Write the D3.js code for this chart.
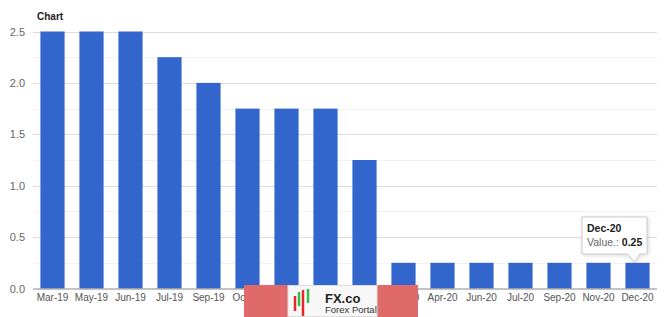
<!DOCTYPE html>
<html><head><meta charset="utf-8">
<script src="https://cdn.jsdelivr.net/npm/d3@7"></script>
<style>
body{margin:0;background:#fff;}
svg{display:block;font-family:"Liberation Sans",Arial,sans-serif;}
</style></head>
<body><svg id="c" width="665" height="317"></svg>
<script>
const categories = ["Mar-19","May-19","Jun-19","Jul-19","Sep-19","Oct-19","Dec-19","Jan-20","Mar-20","Mar-20","Apr-20","Jun-20","Jul-20","Sep-20","Nov-20","Dec-20"];
const values = [2.5,2.5,2.5,2.25,2.0,1.75,1.75,1.75,1.25,0.25,0.25,0.25,0.25,0.25,0.25,0.25];
const yTicks = [0,0.5,1.0,1.5,2.0,2.5];
const yMinor = [0.25,0.75,1.25,1.75,2.25];
const title = "Chart";
const tooltipIndex = 15;

const svg = d3.select("#c");
const x = d3.scaleBand().domain(d3.range(categories.length)).range([33,657]).paddingInner(0.38).paddingOuter(0.19);
const y = d3.scaleLinear().domain([0,2.5]).range([288.5,31.5]);

// minor grid
svg.append("g").selectAll("line").data(yMinor).join("line")
  .attr("x1",33).attr("x2",657).attr("y1",d=>Math.round(y(d))+0.5).attr("y2",d=>Math.round(y(d))+0.5)
  .attr("stroke","#f2f2f2");
// major grid
svg.append("g").selectAll("line").data(yTicks.filter(d=>d>0)).join("line")
  .attr("x1",33).attr("x2",657).attr("y1",d=>Math.round(y(d))+0.5).attr("y2",d=>Math.round(y(d))+0.5)
  .attr("stroke","#dcdcdc");

// y labels
svg.append("g").selectAll("text").data(yTicks).join("text")
  .attr("x",25).attr("y",d=>y(d)+4).attr("text-anchor","end")
  .attr("font-size",11).attr("fill","#666").text(d=>d.toFixed(1));

// bars
svg.append("g").selectAll("rect").data(values).join("rect")
  .attr("x",(d,i)=>x(i)).attr("width",x.bandwidth())
  .attr("y",d=>y(d)).attr("height",d=>y(0)-y(d)).attr("fill","#3366cc");

// baseline
svg.append("line").attr("x1",33).attr("x2",657).attr("y1",289).attr("y2",289).attr("stroke","#888");

// x labels
const xa = d3.axisBottom(x).tickSize(0).tickPadding(5).tickFormat(i=>categories[i]);
const gx = svg.append("g").attr("transform","translate(0,289)").call(xa);
gx.select(".domain").remove();
gx.selectAll("text").attr("font-size",10).attr("fill","#555").attr("font-family","Liberation Sans,Arial,sans-serif");

// title
svg.append("text").attr("x",37).attr("y",20).attr("font-size",10).attr("font-weight","bold")
  .attr("font-family","Liberation Sans Narrow,Arial Narrow,sans-serif").attr("fill","#222").text(title);

// tooltip
const tcx = x(tooltipIndex)+x.bandwidth()/2;
const tg = svg.append("g");
const bx=582, by=217, bw=65, bh=37;
tg.append("path")
  .attr("d",`M${bx},${by} H${bx+bw} V${by+bh} H${tcx+2} L${tcx-3},${by+bh+8} L${tcx-10},${by+bh} H${bx} Z`)
  .attr("fill","#fff").attr("stroke","#ccc").attr("stroke-width",1)
  .style("filter","drop-shadow(1px 1px 2px rgba(0,0,0,0.15))");
tg.append("text").attr("x",bx+5).attr("y",by+15).attr("font-size",10.5).attr("font-weight","bold").attr("fill","#222").text(categories[tooltipIndex]);
const t2 = tg.append("text").attr("x",bx+5).attr("y",by+29).attr("font-size",10.5).attr("fill","#666");
t2.append("tspan").text("Value.: ");
t2.append("tspan").attr("font-weight","bold").attr("fill","#222").text(values[tooltipIndex].toFixed(2));

// logo
const lg = svg.append("g");
lg.append("rect").attr("x",244).attr("y",285).attr("width",174).attr("height",32).attr("fill","#e06a6a");
lg.append("rect").attr("x",288).attr("y",285.5).attr("width",89).attr("height",31).attr("fill","#f7f7f7").attr("stroke","#ddd");
const candles = [[295,296,311,"#e8242c"],[299,292,306,"#2fbf4a"],[303,290,316,"#e8242c"],[308,289,303,"#2fbf4a"]];
lg.selectAll("line.c").data(candles).join("line").attr("class","c")
  .attr("x1",d=>d[0]).attr("x2",d=>d[0]).attr("y1",d=>d[1]).attr("y2",d=>d[2])
  .attr("stroke",d=>d[3]).attr("stroke-width",2.5);
lg.append("text").attr("x",325).attr("y",303).attr("font-size",13).attr("font-weight","bold").attr("fill","#222").text("FX.co");
lg.append("text").attr("x",325).attr("y",313).attr("font-size",9.5).attr("fill","#333").text("Forex Portal");
</script></body></html>
